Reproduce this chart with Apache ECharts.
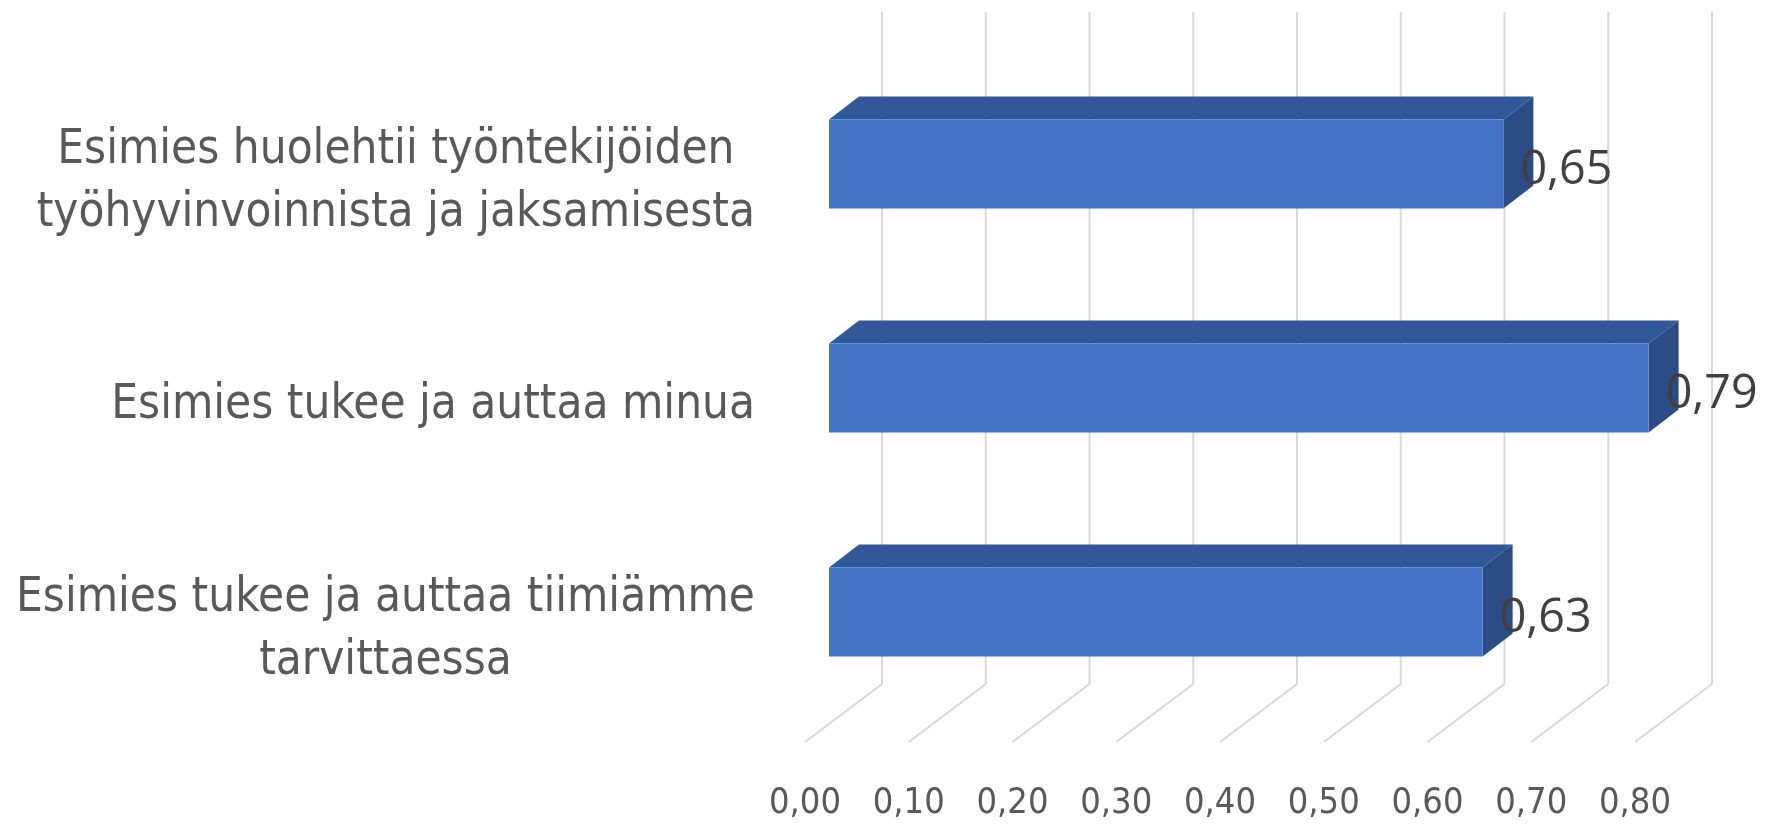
<!DOCTYPE html>
<html>
<head>
<meta charset="utf-8">
<script src="https://cdn.jsdelivr.net/npm/echarts@6/dist/echarts.min.js"></script>
<style>
  html, body { margin: 0; padding: 0; background: #ffffff; }
  #chart { width: 1766px; height: 825px; }
</style>
</head>
<body>
<div id="chart"></div>
<script>
// ---- data ----
const categories = [
  'Esimies huolehtii työntekijöiden\ntyöhyvinvoinnista ja jaksamisesta',
  'Esimies tukee ja auttaa minua',
  'Esimies tukee ja auttaa tiimiämme\ntarvittaessa'
];
const values = [0.65, 0.79, 0.63];
const tickValues = [0, 0.1, 0.2, 0.3, 0.4, 0.5, 0.6, 0.7, 0.8];

// ---- font helpers (sizing text only) ----
const ctx = document.createElement('canvas').getContext('2d');
function pickFont(cands, sample) {
  for (const f of cands) {
    ctx.font = '100px monospace';
    const a = ctx.measureText(sample).width;
    ctx.font = '100px "' + f + '", monospace';
    const b = ctx.measureText(sample).width;
    if (Math.abs(a - b) > 0.5) return f;
  }
  return 'sans-serif';
}
function fitSize(font, text, target) {
  ctx.font = '100px "' + font + '"';
  return 100 * target / ctx.measureText(text).width;
}
const sample = 'Esimies tukee ja auttaa minua 0,65';
const catFont = pickFont(['Liberation Sans Narrow', 'DejaVu Sans Condensed', 'Open Sans'], sample);
const valFont = pickFont(['Open Sans', 'Liberation Sans'], sample);
const catSize = fitSize(catFont, 'Esimies tukee ja auttaa minua', 644);
const tickSize = fitSize(catFont, '0,00', 72);
const valSize = fitSize(valFont, '0,65', 92);

// ---- 3D styling (pixel offsets) ----
const DEPTH = [77, -58];        // front floor -> back wall
const BAR_FRONT = [24, -18];    // front floor plane -> bar front face
const BAR_DEPTH = [30, -23];    // bar front face -> bar back face
const BAR_H = 89;

const fmt = v => v.toFixed(2).replace('.', ',');

const chart = echarts.init(document.getElementById('chart'), null, { renderer: 'canvas' });

chart.setOption({
  animation: false,
  backgroundColor: '#ffffff',
  grid: { left: 805, right: 131, top: 70, bottom: 83, containLabel: false },
  xAxis: {
    type: 'value', min: 0, max: 0.8, interval: 0.1,
    axisLine: { show: false }, axisTick: { show: false }, splitLine: { show: false },
    axisLabel: {
      formatter: fmt, margin: 44,
      fontFamily: catFont, fontSize: tickSize, color: '#595959'
    }
  },
  yAxis: {
    type: 'category', inverse: true, data: categories,
    axisLine: { show: false }, axisTick: { show: false }, splitLine: { show: false },
    axisLabel: {
      interval: 0, margin: 50,
      formatter: v => v.split('\n').map(s => '{c|' + s + '}').join('\n'),
      rich: { c: { align: 'center', fontFamily: catFont, fontSize: catSize, lineHeight: 63, color: '#595959' } }
    }
  },
  series: [
    {
      type: 'custom', name: 'walls', clip: false, silent: true,
      data: tickValues.map(v => [v, 0]),
      encode: { x: 0, y: 1 },
      renderItem: function (params, api) {
        const cs = params.coordSys;
        const x = api.coord([api.value(0), 0])[0];
        const bottom = cs.y + cs.height;
        const top = cs.y;
        const st = { stroke: '#d9d9d9', lineWidth: 2 };
        return {
          type: 'group',
          children: [
            { type: 'line', shape: { x1: x, y1: bottom, x2: x + DEPTH[0], y2: bottom + DEPTH[1] }, style: st },
            { type: 'line', shape: { x1: x + DEPTH[0], y1: bottom + DEPTH[1], x2: x + DEPTH[0], y2: top + DEPTH[1] }, style: st }
          ]
        };
      }
    },
    {
      type: 'custom', name: 'bars', clip: false,
      data: values.map((v, i) => [v, i]),
      encode: { x: 0, y: 1 },
      renderItem: function (params, api) {
        const v = api.value(0), idx = api.value(1);
        const p0 = api.coord([0, idx]);
        const p1 = api.coord([v, idx]);
        const x0 = p0[0] + BAR_FRONT[0];
        const x1 = p1[0] + BAR_FRONT[0];
        const cy = p0[1] + BAR_FRONT[1];
        const yT = cy - BAR_H / 2, yB = cy + BAR_H / 2;
        const dx = BAR_DEPTH[0], dy = BAR_DEPTH[1];
        return {
          type: 'group',
          children: [
            { type: 'polygon', shape: { points: [[x0, yT], [x1, yT], [x1 + dx, yT + dy], [x0 + dx, yT + dy]] },
              style: { fill: '#315898' } },
            { type: 'polygon', shape: { points: [[x1, yT], [x1 + dx, yT + dy], [x1 + dx, yB + dy], [x1, yB]] },
              style: { fill: '#2b4c85' } },
            { type: 'rect', shape: { x: x0, y: yT, width: x1 - x0, height: BAR_H },
              style: { fill: '#4472c4' } },
            { type: 'text', x: x1 + 17, y: cy + 7,
              style: { text: fmt(v), fontFamily: valFont, fontSize: valSize, fill: '#404040',
                       align: 'left', verticalAlign: 'middle' } }
          ]
        };
      }
    }
  ]
});
</script>
</body>
</html>
